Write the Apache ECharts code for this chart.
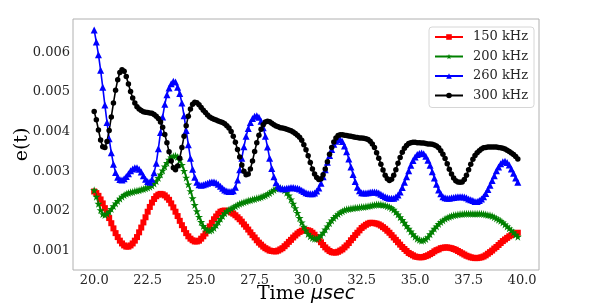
<!DOCTYPE html>
<html><head><meta charset="utf-8">
<script src="https://cdn.jsdelivr.net/npm/echarts@6/dist/echarts.min.js"></script>
<style>html,body{margin:0;padding:0;background:#fff}#c{width:598px;height:303px}</style>
</head><body><div id="c"></div>
<script>
const time = [
20.0,20.1,20.2,20.3,20.4,20.5,20.6,20.7,20.8,20.9,
21.0,21.1,21.2,21.3,21.4,21.5,21.6,21.7,21.8,21.9,
22.0,22.1,22.2,22.3,22.4,22.5,22.6,22.7,22.8,22.9,
23.0,23.1,23.2,23.3,23.4,23.5,23.6,23.7,23.8,23.9,
24.0,24.1,24.2,24.3,24.4,24.5,24.6,24.7,24.8,24.9,
25.0,25.1,25.2,25.3,25.4,25.5,25.6,25.7,25.8,25.9,
26.0,26.1,26.2,26.3,26.4,26.5,26.6,26.7,26.8,26.9,
27.0,27.1,27.2,27.3,27.4,27.5,27.6,27.7,27.8,27.9,
28.0,28.1,28.2,28.3,28.4,28.5,28.6,28.7,28.8,28.9,
29.0,29.1,29.2,29.3,29.4,29.5,29.6,29.7,29.8,29.9,
30.0,30.1,30.2,30.3,30.4,30.5,30.6,30.7,30.8,30.9,
31.0,31.1,31.2,31.3,31.4,31.5,31.6,31.7,31.8,31.9,
32.0,32.1,32.2,32.3,32.4,32.5,32.6,32.7,32.8,32.9,
33.0,33.1,33.2,33.3,33.4,33.5,33.6,33.7,33.8,33.9,
34.0,34.1,34.2,34.3,34.4,34.5,34.6,34.7,34.8,34.9,
35.0,35.1,35.2,35.3,35.4,35.5,35.6,35.7,35.8,35.9,
36.0,36.1,36.2,36.3,36.4,36.5,36.6,36.7,36.8,36.9,
37.0,37.1,37.2,37.3,37.4,37.5,37.6,37.7,37.8,37.9,
38.0,38.1,38.2,38.3,38.4,38.5,38.6,38.7,38.8,38.9,
39.0,39.1,39.2,39.3,39.4,39.5,39.6,39.7,39.8];

const names = ['150 kHz','200 kHz','260 kHz','300 kHz'];

const e150 = [
.00249,.00245,.00238,.00229,.00219,.00207,.00195,.00182,.00169,.00156,
.00144,.00134,.00125,.00118,.00113,.00110,.00110,.00113,.00118,.00125,
.00134,.00146,.00158,.00171,.00184,.00198,.00210,.00221,.00230,.00237,
.00241,.00243,.00242,.00239,.00234,.00228,.00219,.00209,.00198,.00187,
.00175,.00164,.00154,.00144,.00136,.00130,.00126,.00123,.00123,.00125,
.00130,.00136,.00143,.00152,.00161,.00170,.00179,.00186,.00193,.00198,
.00200,.00201,.00200,.00199,.00196,.00193,.00189,.00184,.00179,.00173,
.00166,.00160,.00153,.00146,.00139,.00133,.00126,.00120,.00115,.00110,
.00106,.00103,.00100,.00099,.00098,.00098,.00100,.00103,.00106,.00111,
.00116,.00122,.00127,.00133,.00138,.00143,.00147,.00150,.00151,.00152,
.00151,.00149,.00145,.00140,.00134,.00128,.00121,.00114,.00108,.00103,
.00099,.00096,.00095,.00095,.00097,.00100,.00103,.00108,.00113,.00119,
.00126,.00132,.00139,.00145,.00151,.00157,.00161,.00165,.00168,.00170,
.00170,.00169,.00168,.00166,.00163,.00159,.00155,.00150,.00145,.00139,
.00133,.00127,.00121,.00115,.00109,.00104,.00099,.00094,.00091,.00088,
.00085,.00084,.00083,.00083,.00084,.00086,.00088,.00091,.00094,.00098,
.00101,.00103,.00106,.00107,.00108,.00108,.00107,.00106,.00104,.00102,
.00099,.00096,.00093,.00090,.00087,.00085,.00083,.00082,.00081,.00081,
.00082,.00083,.00085,.00088,.00092,.00096,.00100,.00105,.00109,.00114,
.00119,.00124,.00128,.00132,.00136,.00139,.00142,.00144,.00145];

const e200 = [
.00252,.00236,.00218,.00202,.00192,.00190,.00193,.00198,.00205,.00212,
.00219,.00225,.00231,.00236,.00240,.00243,.00245,.00247,.00248,.00250,
.00251,.00252,.00254,.00255,.00257,.00259,.00261,.00264,.00269,.00275,
.00283,.00292,.00302,.00312,.00321,.00329,.00335,.00338,.00339,.00336,
.00328,.00316,.00301,.00284,.00267,.00250,.00232,.00215,.00199,.00185,
.00172,.00162,.00155,.00151,.00150,.00152,.00157,.00164,.00172,.00180,
.00187,.00194,.00199,.00203,.00206,.00209,.00212,.00215,.00218,.00220,
.00222,.00224,.00226,.00227,.00229,.00230,.00232,.00233,.00235,.00237,
.00239,.00242,.00245,.00249,.00253,.00256,.00258,.00258,.00256,.00252,
.00246,.00239,.00229,.00218,.00207,.00195,.00182,.00171,.00160,.00151,
.00142,.00136,.00132,.00130,.00130,.00133,.00138,.00145,.00153,.00161,
.00169,.00176,.00182,.00187,.00192,.00196,.00199,.00202,.00204,.00205,
.00206,.00207,.00208,.00208,.00209,.00210,.00210,.00211,.00212,.00213,
.00214,.00215,.00216,.00216,.00216,.00215,.00214,.00212,.00210,.00207,
.00203,.00197,.00191,.00184,.00177,.00170,.00162,.00155,.00148,.00141,
.00135,.00130,.00127,.00125,.00126,.00129,.00134,.00141,.00148,.00155,
.00161,.00167,.00172,.00176,.00180,.00183,.00185,.00187,.00189,.00190,
.00191,.00192,.00192,.00193,.00193,.00193,.00193,.00193,.00193,.00193,
.00193,.00193,.00192,.00191,.00190,.00189,.00187,.00184,.00181,.00178,
.00175,.00171,.00166,.00161,.00156,.00151,.00146,.00140,.00135];

const e260 = [
.00656,.00626,.00594,.00555,.00512,.00467,.00423,.00382,.00347,.00318,
.00297,.00285,.00279,.00278,.00281,.00287,.00294,.00301,.00306,.00309,
.00309,.00305,.00298,.00289,.00280,.00274,.00272,.00280,.00296,.00320,
.00357,.00398,.00437,.00469,.00493,.00510,.00521,.00527,.00525,.00512,
.00496,.00472,.00440,.00403,.00367,.00333,.00305,.00285,.00272,.00266,
.00265,.00266,.00268,.00270,.00272,.00273,.00273,.00271,.00267,.00262,
.00257,.00253,.00250,.00249,.00249,.00251,.00260,.00278,.00304,.00333,
.00362,.00388,.00408,.00423,.00433,.00439,.00440,.00436,.00426,.00410,
.00388,.00361,.00333,.00307,.00286,.00271,.00262,.00258,.00256,.00256,
.00257,.00258,.00259,.00259,.00258,.00257,.00255,.00252,.00249,.00246,
.00244,.00243,.00243,.00245,.00250,.00258,.00270,.00286,.00304,.00323,
.00340,.00355,.00368,.00376,.00380,.00380,.00375,.00364,.00349,.00331,
.00311,.00292,.00274,.00260,.00251,.00246,.00245,.00245,.00246,.00247,
.00248,.00248,.00247,.00245,.00242,.00239,.00236,.00234,.00232,.00232,
.00232,.00235,.00240,.00248,.00259,.00272,.00286,.00301,.00315,.00327,
.00336,.00342,.00345,.00346,.00344,.00338,.00328,.00315,.00299,.00283,
.00267,.00253,.00243,.00236,.00233,.00232,.00232,.00233,.00234,.00235,
.00236,.00236,.00236,.00235,.00233,.00230,.00228,.00226,.00224,.00224,
.00226,.00230,.00236,.00244,.00254,.00265,.00277,.00289,.00301,.00311,
.00319,.00324,.00325,.00322,.00316,.00306,.00295,.00283,.00272];

const e300 = [
.00451,.00430,.00404,.00379,.00362,.00360,.00375,.00403,.00437,.00472,
.00504,.00531,.00549,.00556,.00552,.00539,.00520,.00501,.00485,.00472,
.00463,.00457,.00453,.00450,.00449,.00448,.00447,.00446,.00443,.00439,
.00433,.00424,.00411,.00393,.00372,.00349,.00326,.00309,.00304,.00313,
.00333,.00360,.00388,.00415,.00439,.00457,.00469,.00474,.00473,.00468,
.00461,.00454,.00448,.00442,.00437,.00434,.00431,.00429,.00427,.00425,
.00423,.00420,.00415,.00409,.00400,.00388,.00373,.00355,.00336,.00316,
.00300,.00291,.00293,.00306,.00326,.00350,.00372,.00391,.00406,.00417,
.00424,.00426,.00425,.00421,.00417,.00414,.00412,.00410,.00409,.00408,
.00406,.00404,.00402,.00399,.00395,.00391,.00386,.00378,.00367,.00354,
.00339,.00322,.00306,.00293,.00284,.00279,.00281,.00291,.00306,.00324,
.00343,.00360,.00374,.00384,.00390,.00392,.00392,.00391,.00390,.00389,
.00388,.00387,.00386,.00385,.00384,.00384,.00383,.00382,.00380,.00376,
.00369,.00360,.00347,.00333,.00318,.00303,.00290,.00281,.00277,.00280,
.00290,.00304,.00320,.00335,.00348,.00358,.00365,.00370,.00372,.00373,
.00373,.00372,.00372,.00371,.00371,.00370,.00369,.00369,.00368,.00366,
.00364,.00359,.00352,.00343,.00332,.00319,.00305,.00293,.00283,.00276,
.00273,.00272,.00273,.00279,.00290,.00304,.00318,.00330,.00340,.00347,
.00352,.00356,.00359,.00360,.00361,.00361,.00361,.00361,.00361,.00360,
.00359,.00358,.00356,.00353,.00350,.00346,.00342,.00337,.00331];

const xTicks = [20, 22.5, 25, 27.5, 30, 32.5, 35, 37.5, 40];
const yTicks = [0.001, 0.002, 0.003, 0.004, 0.005, 0.006];

const pairs = v => time.map((t, i) => [t, v[i]]);
const serif = 'DejaVu Serif';
const star = 'path://M50,0L61.2,34.5L97.6,34.5L68.2,55.9L79.4,90.5L50,69.1L20.6,90.5L31.8,55.9L2.4,34.5L38.8,34.5Z';

function mk(name, data, color, symbol, size) {
  return {
    name: name, type: 'line', data: pairs(data),
    symbol: symbol, symbolSize: size, showSymbol: true,
    lineStyle: { width: 1.6, color: color },
    itemStyle: { color: color },
    emphasis: { disabled: true },
    animation: false
  };
}

const chart = echarts.init(document.getElementById('c'), null, { renderer: 'canvas' });
chart.setOption({
  animation: false,
  grid: { left: 73, right: 59, top: 19, bottom: 33, show: true, borderColor: '#b0b0b0', borderWidth: 1 },
  xAxis: {
    type: 'value', min: 19.01, max: 40.79,
    axisLine: { show: false }, axisTick: { show: false }, splitLine: { show: false },
    axisLabel: { customValues: xTicks, formatter: v => v.toFixed(1), fontFamily: serif, fontSize: 13, color: '#262626', margin: 4 }
  },
  yAxis: {
    type: 'value', min: 0.00051, max: 0.00684,
    axisLine: { show: false }, axisTick: { show: false }, splitLine: { show: false },
    axisLabel: { customValues: yTicks, formatter: v => v.toFixed(3), fontFamily: serif, fontSize: 13, color: '#262626', margin: 3 }
  },
  legend: {
    data: names, orient: 'vertical', left: 429, top: 27,
    backgroundColor: 'rgba(255,255,255,0.8)', borderColor: '#d6d6d6', borderWidth: 1, borderRadius: 3,
    padding: [3.5, 6, 5.5, 5], itemWidth: 28, itemHeight: 7, itemGap: 6.5,
    textStyle: { fontFamily: serif, fontSize: 13, color: '#262626', padding: [0, 0, 0, 5] }
  },
  graphic: [
    { type: 'text', x: 22, y: 144.5, rotation: Math.PI / 2,
      style: { text: 'e(t)', fontFamily: serif, fontSize: 19, fill: '#000', align: 'center', verticalAlign: 'middle' } },
    { type: 'text', x: 306, y: 294.3,
      style: { text: '{a|Time }{b|μsec}', align: 'center', verticalAlign: 'middle', fill: '#000',
        rich: { a: { fontFamily: serif, fontSize: 19, fill: '#000' }, b: { fontFamily: 'DejaVu Sans', fontStyle: 'italic', fontSize: 19, fill: '#000' } } } }
  ],
  series: [
    mk(names[0], e150, '#ff0000', 'rect', 6),
    mk(names[1], e200, '#008000', star, 8),
    mk(names[2], e260, '#0000ff', 'triangle', 7),
    mk(names[3], e300, '#000000', 'circle', 5.5)
  ]
});
</script>
</body></html>
